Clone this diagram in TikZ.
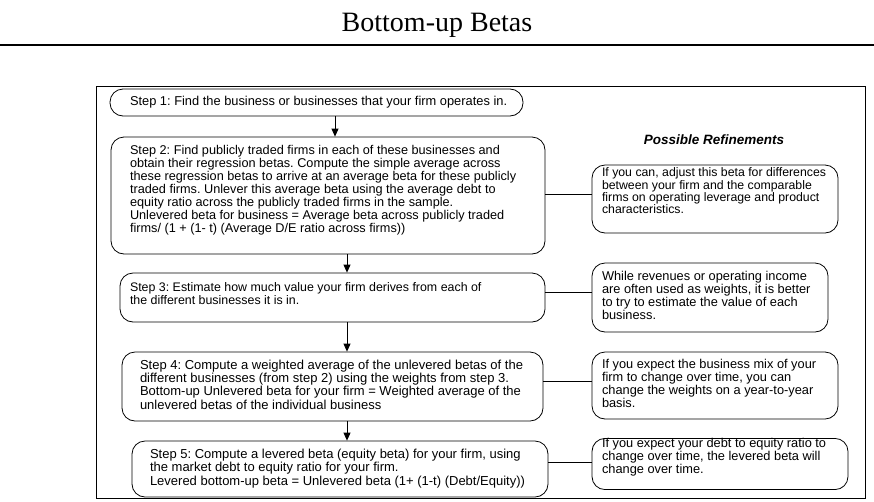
\documentclass[tikz,border=0pt]{standalone}
\usepackage{fontspec}
\setmainfont{Liberation Serif}
\newfontfamily\hv{Liberation Sans}
\usetikzlibrary{arrows.meta}
\newcommand{\linesbox}[2]{\makebox[#1][l]{\begin{tabular}{@{}l@{}}#2\end{tabular}}}
\begin{document}
\frenchspacing
\begin{tikzpicture}[x=1pt,y=-1pt,
  stepbox/.style={draw,line width=0.8pt,rounded corners=13pt,inner sep=0pt,
    font=\hv\fontsize{12.8}{12.6}\selectfont},
  fs/.style={font=\hv\fontsize{#1}{12.6}\selectfont},
  refbox/.style={stepbox},
  arr/.style={line width=0.8pt,-{Triangle[length=8pt,width=7pt]}},
  conn/.style={line width=0.8pt}]
\useasboundingbox (0,0) rectangle (874,501);
\fill[white] (0,0) rectangle (874,501);
% title
\node[font=\fontsize{28}{30}\selectfont] (title) at (437,25) {Bottom-up Betas};
\draw[line width=1.6pt] (0,45) -- (874,45);
% frame
\draw[line width=0.8pt] (96,86) rectangle (865,498);
% steps
\node[stepbox,fs=12.85,minimum width=413pt,minimum height=27pt] (s1) at (316.5,102.5)
  {\linesbox{373pt}{Step 1: Find the business or businesses that your firm operates in.}};
\node[stepbox,fs=12.7,minimum width=434pt,minimum height=117pt] (s2) at (328,195.5)
  {\linesbox{396pt}{Step 2: Find publicly traded firms in each of these businesses and\\
   obtain their regression betas. Compute the simple average across\\
   these regression betas to arrive at an average beta for these publicly\\
   traded firms. Unlever this average beta using the average debt to\\
   equity ratio across the publicly traded firms in the sample.\\
   Unlevered beta for business = Average beta across publicly traded\\
   firms/ (1 + (1- t) (Average D/E ratio across firms))\\[10pt]}};
\node[stepbox,fs=12.4,minimum width=425pt,minimum height=49pt] (s3) at (332.5,297.5)
  {\linesbox{405pt}{Step 3: Estimate how much value your firm derives from each of\\
   the different businesses it is in.\\[4pt]}};
\node[stepbox,fs=13,minimum width=421pt,minimum height=69pt] (s4) at (332.5,386.5)
  {\linesbox{385pt}{Step 4: Compute a weighted average of the unlevered betas of the\\
   different businesses (from step 2) using the weights from step 3.\\
   Bottom-up Unlevered beta for your firm = Weighted average of the\\
   unlevered betas of the individual business}};
\node[stepbox,fs=13,minimum width=416pt,minimum height=56pt] (s5) at (340,469)
  {\linesbox{380pt}{Step 5: Compute a levered beta (equity beta) for your firm, using\\
   the market debt to equity ratio for your firm.\\
   Levered bottom-up beta = Unlevered beta (1+ (1-t) (Debt/Equity))}};
% refinements
\node[font=\hv\bfseries\itshape\fontsize{13.5}{15}\selectfont] (pr) at (714,140) {Possible Refinements};
\node[refbox,minimum width=246pt,minimum height=68pt,
  font=\hv\fontsize{12.3}{11.6}\selectfont] (r1) at (715,199)
  {\linesbox{226pt}{If you can, adjust this beta for differences\\
   between your firm and the comparable\\
   firms on operating leverage and product\\
   characteristics.\\[13pt]}};
\node[refbox,minimum width=236pt,minimum height=69pt] (r2) at (710,297.5)
  {\linesbox{216pt}{While revenues or operating income\\
   are often used as weights, it is better\\
   to try to estimate the value of each\\
   business.}};
\node[refbox,minimum width=246pt,minimum height=67pt] (r3) at (715,385.5)
  {\linesbox{226pt}{If you expect the business mix of your\\
   firm to change over time, you can\\
   change the weights on a year-to-year\\
   basis.}};
\node[refbox,minimum width=256pt,minimum height=48pt] (r4) at (720,464)
  {\linesbox{236pt}{If you expect your debt to equity ratio to\\
   change over time, the levered beta will\\
   change over time.\\[12pt]}};
% arrows
\draw[arr] (s1.south -| 335,0) -- (s2.north -| 335,0);
\draw[arr] (s2.south -| 347,0) -- (s3.north -| 347,0);
\draw[arr] (s3.south -| 347,0) -- (s4.north -| 347,0);
\draw[arr] (s4.south -| 347,0) -- (s5.north -| 347,0);
% connectors
\draw[conn] (s2.east |- 0,194) -- (r1.west |- 0,194);
\draw[conn] (s3.east |- 0,292) -- (r2.west |- 0,292);
\draw[conn] (s4.east |- 0,381) -- (r3.west |- 0,381);
\draw[conn] (s5.east |- 0,462) -- (r4.west |- 0,462);
\end{tikzpicture}
\end{document}
